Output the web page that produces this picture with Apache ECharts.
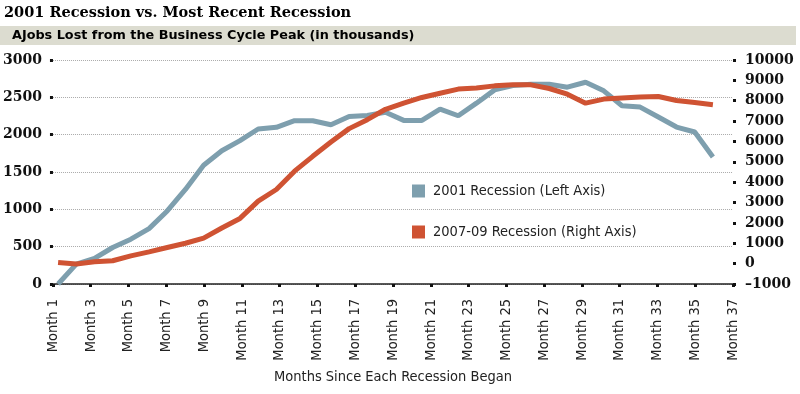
<!DOCTYPE html>
<html><head><meta charset="utf-8">
<script src="https://cdn.jsdelivr.net/npm/echarts@6/dist/echarts.min.js"></script>
<style>html,body{margin:0;padding:0;background:#fff}#c{width:800px;height:394px}</style>
</head><body><div id="c"></div>
<script>
const titleText = '2001 Recession vs. Most Recent Recession';
const subtitleText = 'AJobs Lost from the Business Cycle Peak (in thousands)';
const xAxisName = 'Months Since Each Recession Began';
const months = ['Month 1','Month 2','Month 3','Month 4','Month 5','Month 6','Month 7','Month 8','Month 9','Month 10',
  'Month 11','Month 12','Month 13','Month 14','Month 15','Month 16','Month 17','Month 18','Month 19','Month 20',
  'Month 21','Month 22','Month 23','Month 24','Month 25','Month 26','Month 27','Month 28','Month 29','Month 30',
  'Month 31','Month 32','Month 33','Month 34','Month 35','Month 36','Month 37'];
const seriesNames = ['2001 Recession (Left Axis)', '2007-09 Recession (Right Axis)'];
const recession2001 = [0,267,342,489,600,742,978,1267,1590,1785,1920,2076,2098,2187,2187,2133,2244,2258,2300,2191,
  2191,2342,2253,2422,2600,2658,2676,2676,2636,2702,2587,2387,2369,2236,2102,2036,1702];
const recession2007 = [60,-20,90,140,380,580,790,1000,1250,1750,2220,3070,3640,4540,5270,5970,6630,7070,7580,7880,
  8160,8370,8570,8620,8730,8780,8780,8600,8320,7880,8080,8130,8180,8210,8010,7910,7800];
const leftTicks = [0,500,1000,1500,2000,2500,3000];
const rightTicks = [-1000,0,1000,2000,3000,4000,5000,6000,7000,8000,9000,10000];

const BLUE = '#7e9fae', RED = '#cf5333';
const NARROW = '"Liberation Sans Narrow","DejaVu Sans Condensed","Liberation Sans",sans-serif';
const SERIF = '"DejaVu Serif",serif';

const chart = echarts.init(document.getElementById('c'), null, {renderer:'canvas'});
const tickStyle = {show:true, length:3, lineStyle:{width:3, color:'#111'}};
const yLabel = {fontFamily:SERIF, fontWeight:'bold', fontSize:14, color:'#111'};
chart.setOption({
  animation:false,
  backgroundColor:'#fff',
  graphic:[
    {type:'rect', shape:{x:0, y:26, width:796, height:19}, style:{fill:'#dcdcd0'}},
    {type:'text', x:4, y:13, style:{text:titleText, fontFamily:SERIF, fontWeight:'bold', fontSize:14.5, fill:'#000', verticalAlign:'middle'}},
    {type:'text', x:12, y:36, style:{text:subtitleText, fontFamily:'"DejaVu Sans",sans-serif', fontWeight:'bold', fontSize:12.8, fill:'#000', verticalAlign:'middle'}}
  ],
  legend:{orient:'vertical', left:412, top:183.5, padding:0, itemGap:26, itemWidth:13, itemHeight:13, icon:'rect',
    textStyle:{fontFamily:NARROW, fontSize:14.5, lineHeight:13, color:'#222', padding:[0,0,0,3]}, data:seriesNames},
  grid:[{left:50, right:67, top:60, bottom:110}, {left:49, right:78, top:60, bottom:110}],
  xAxis:[
    {gridIndex:0, type:'category', data:months, boundaryGap:false,
     axisLine:{lineStyle:{color:'#222', width:1.5}},
     axisTick:{interval:1, length:3, lineStyle:{width:3, color:'#111'}},
     axisLabel:{interval:1, rotate:90, margin:15, fontFamily:NARROW, fontSize:14.5, color:'#222'},
     name:xAxisName, nameLocation:'middle', nameGap:86,
     nameTextStyle:{fontFamily:NARROW, fontSize:14.5, color:'#222'}},
    {gridIndex:1, type:'category', data:months, boundaryGap:true, show:false}
  ],
  yAxis:[
    {gridIndex:0, type:'value', position:'left', min:leftTicks[0], max:leftTicks[leftTicks.length-1], interval:leftTicks[1]-leftTicks[0],
     axisLine:{show:false}, axisTick:tickStyle,
     axisLabel:Object.assign({margin:11, formatter:v => String(v)}, yLabel),
     splitLine:{show:true, lineStyle:{type:'dotted', color:'#aaa', width:1}}},
    {gridIndex:0, type:'value', position:'right', min:rightTicks[0], max:rightTicks[rightTicks.length-1], interval:rightTicks[1]-rightTicks[0],
     axisLine:{show:false}, axisTick:tickStyle,
     axisLabel:Object.assign({margin:12, formatter:v => v < 0 ? '\u2013' + Math.abs(v) : String(v)}, yLabel),
     splitLine:{show:false}},
    {gridIndex:1, type:'value', min:leftTicks[0], max:leftTicks[leftTicks.length-1], show:false, splitLine:{show:false}},
    {gridIndex:1, type:'value', min:rightTicks[0], max:rightTicks[rightTicks.length-1], show:false, splitLine:{show:false}}
  ],
  series:[
    {name:seriesNames[0], type:'line', xAxisIndex:1, yAxisIndex:2, data:recession2001, showSymbol:false,
     lineStyle:{width:5, color:BLUE}, itemStyle:{color:BLUE}, z:2},
    {name:seriesNames[1], type:'line', xAxisIndex:1, yAxisIndex:3, data:recession2007, showSymbol:false,
     lineStyle:{width:5, color:RED}, itemStyle:{color:RED}, z:3}
  ]
});
</script></body></html>
